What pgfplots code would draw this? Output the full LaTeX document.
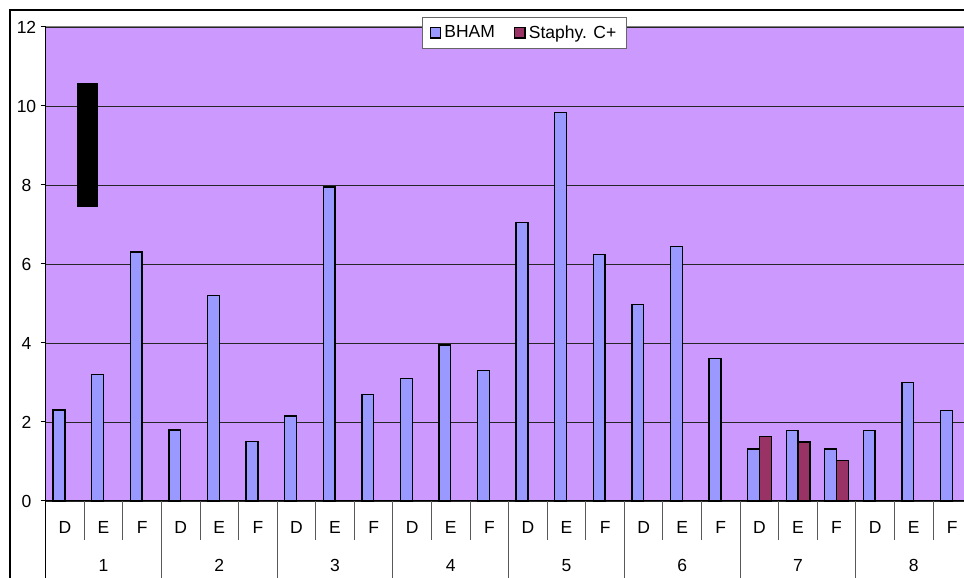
\documentclass[border=0pt]{standalone}
\usepackage{pgfplots}
\pgfplotsset{compat=1.18}
\usepackage{fontspec}
\setmainfont{Liberation Sans}
\definecolor{bgpurple}{HTML}{CC99FF}
\definecolor{bham}{HTML}{9999FF}
\definecolor{staph}{HTML}{993366}
\newcommand{\cf}{\fontsize{17.5}{21}\selectfont}
\begin{document}
\begin{tikzpicture}
\useasboundingbox (0,0) rectangle (964pt,578pt);
\clip (0,0) rectangle (964pt,578pt);
\fill[white] (0,0) rectangle (964pt,578pt);
\draw[line width=2pt] (10pt,-20pt) -- (10pt,567.5pt) -- (1000pt,567.5pt);
\begin{axis}[
  at={(45.7pt,77pt)}, anchor=south west,
  width=925.9pt, height=474pt, scale only axis,
  xmin=-0.5, xmax=23.5, ymin=0, ymax=12,
  axis x line*=bottom, axis y line*=left,
  axis line style={black, line width=1pt},
  axis background/.style={fill=bgpurple},
  ytick={0,2,...,12},
  ymajorgrids, major grid style={black!85, line width=0.9pt},
  ytick style={black, line width=1pt},
  tick align=outside, major tick length=5pt,
  xtick={0,...,23},
  xtick style={draw=none},
  xticklabels={D,{E\\[16.7pt]1},F,D,{E\\[16.7pt]2},F,D,{E\\[16.7pt]3},F,D,{E\\[16.7pt]4},F,D,{E\\[16.7pt]5},F,D,{E\\[16.7pt]6},F,D,{E\\[16.7pt]7},F,D,{E\\[16.7pt]8},F},
  xticklabel style={align=center, font=\cf, anchor=north, inner sep=0pt, yshift=-15.5pt},
  yticklabel style={font=\cf, anchor=center, inner sep=0pt, xshift=-14.2pt},
  /pgf/number format/assume math mode=true,
  ybar=0pt, bar width=11.8pt,
  clip=false,
  legend columns=2,
  legend image code/.code={\draw[#1,line width=1.4pt] (0pt,-5.3pt) rectangle (10.5pt,5.3pt);},
  legend style={at={(axis description cs:0.406,1.0217)}, anchor=north west,
    draw=gray!80!black, line width=0.8pt, fill=white, font=\cf,
    inner xsep=7.5pt, inner ysep=5.5pt, nodes={inner sep=3pt},
    /tikz/every even column/.append style={column sep=16pt}},
]
\addplot[fill=bham, draw=black, line width=1.4pt] coordinates {
(0,2.3) (1,3.2) (2,6.3) (3,1.8) (4,5.2) (5,1.5) (6,2.15) (7,7.95) (8,2.7)
(9,3.1) (10,3.95) (11,3.3) (12,7.05) (13,9.83) (14,6.24) (15,4.97) (16,6.44)
(17,3.6) (18,1.32) (19,1.78) (20,1.32) (21,1.78) (22,3.0) (23,2.29)};
\addlegendentry{BHAM}
\addplot[fill=staph, draw=black, line width=1.4pt] coordinates {
(18,1.64) (19,1.49) (20,1.03)};
\addlegendentry{Staphy. C+}
\fill[black] (axis cs:0.30,7.45) rectangle (axis cs:0.85,10.575);
\draw[gray, line width=1pt] (rel axis cs:0,1) -- (rel axis cs:1,1);
\pgfplotsinvokeforeach{0.5,1.5,3.5,4.5,6.5,7.5,9.5,10.5,12.5,13.5,15.5,16.5,18.5,19.5,21.5,22.5}{
  \draw[gray!70!black, line width=1pt] (axis cs:#1,0) -- ++(0pt,-39.5pt);}
\pgfplotsinvokeforeach{2.5,5.5,8.5,11.5,14.5,17.5,20.5,23.5}{
  \draw[gray!70!black, line width=1pt] (axis cs:#1,0) -- ++(0pt,-100pt);}
\draw[black, line width=1pt] (axis cs:-0.5,0) -- ++(0pt,-100pt);
\end{axis}
\end{tikzpicture}
\end{document}
